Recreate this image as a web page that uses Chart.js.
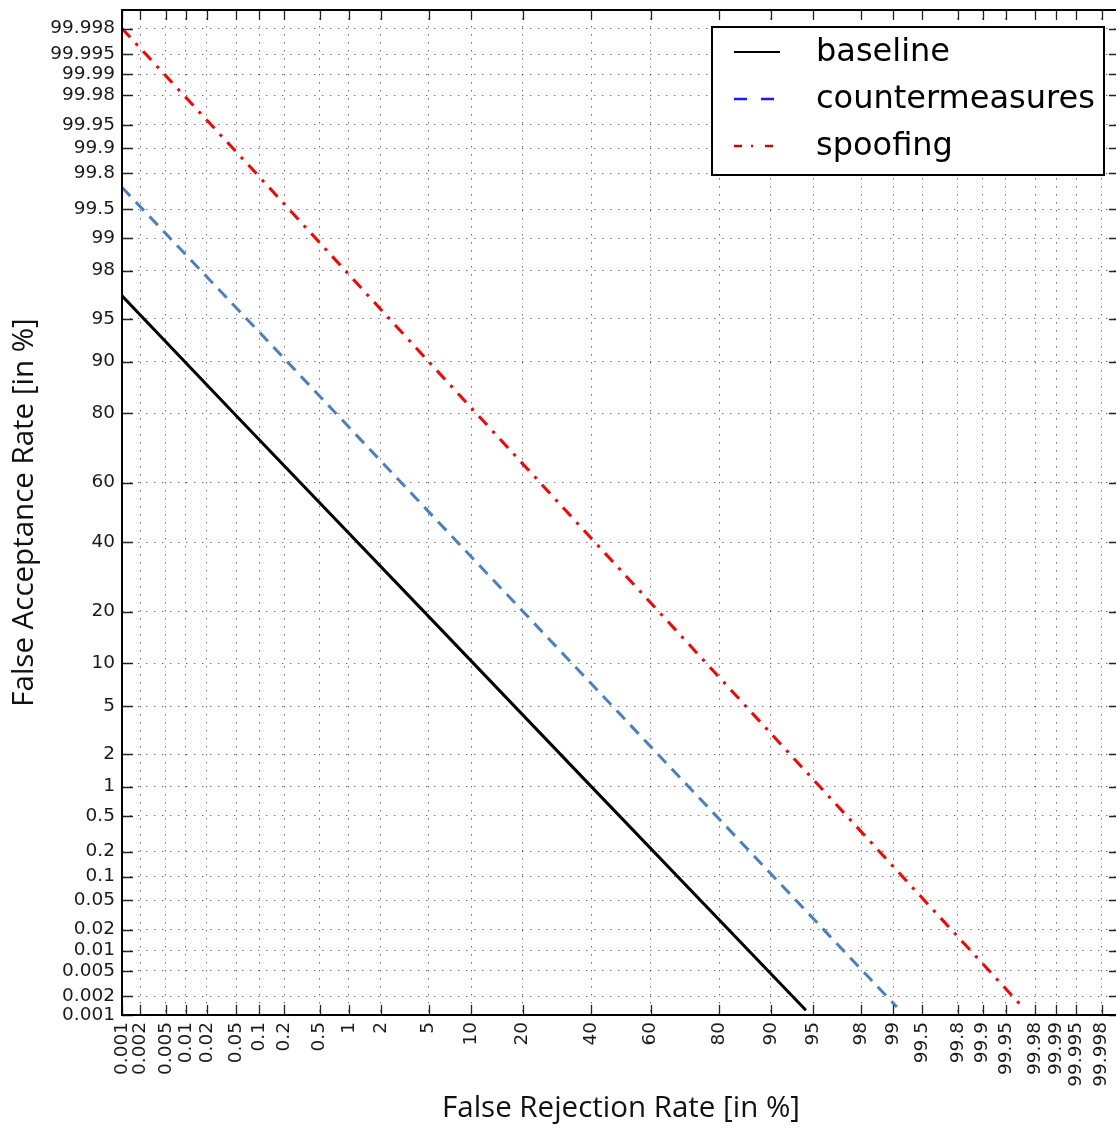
<!DOCTYPE html>
<html>
<head>
<meta charset="utf-8">
<script src="https://cdn.jsdelivr.net/npm/chart.js@4.4.0/dist/chart.umd.min.js"></script>
<style>
  body { margin: 0; background: #fff; }
  #wrap { width: 1116px; height: 1128px; overflow: hidden; }
</style>
</head>
<body>
<div id="wrap"><canvas id="detChart" width="1122" height="1128"></canvas></div>
<script>
// tick positions (in %) shared by both axes
var tickPercents = [0.001, 0.002, 0.005, 0.01, 0.02, 0.05, 0.1, 0.2, 0.5, 1, 2, 5, 10, 20, 40, 60, 80, 90, 95, 98, 99, 99.5, 99.8, 99.9, 99.95, 99.98, 99.99, 99.995, 99.998];
var tickLabels = ['0.001', '0.002', '0.005', '0.01', '0.02', '0.05', '0.1', '0.2', '0.5', '1', '2', '5', '10', '20', '40', '60', '80', '90', '95', '98', '99', '99.5', '99.8', '99.9', '99.95', '99.98', '99.99', '99.995', '99.998'];

// curves (FRR %, FAR %)
var baselineFRR = [0.001, 0.05, 5, 40, 94.3];
var baselineFAR = [96.7, 79.5, 18.9, 1.0, 0.0012];
var counterFRR = [0.001, 0.1, 5, 40, 80, 99.08];
var counterFAR = [99.71, 93.7, 50.3, 7.3, 0.46, 0.00135];
var spoofFRR = [0.001, 0.1, 5, 40, 80, 99.97];
var spoofFAR = [99.998, 99.78, 90.0, 41.3, 8.06, 0.00135];

// inverse normal cdf (Acklam)
function probit(p) {
  var a = [-3.969683028665376e+01, 2.209460984245205e+02, -2.759285104469687e+02, 1.383577518672690e+02, -3.066479806614716e+01, 2.506628277459239e+00];
  var b = [-5.447609879822406e+01, 1.615858368580409e+02, -1.556989798598866e+02, 6.680131188771972e+01, -1.328068155288572e+01];
  var c = [-7.784894002430293e-03, -3.223964580411365e-01, -2.400758277161838e+00, -2.549732539343734e+00, 4.374664141464968e+00, 2.938163982698783e+00];
  var d = [7.784695709041462e-03, 3.224671290700398e-01, 2.445134137142996e+00, 3.754408661907416e+00];
  var pl = 0.02425, q, r;
  if (p < pl) {
    q = Math.sqrt(-2 * Math.log(p));
    return (((((c[0]*q+c[1])*q+c[2])*q+c[3])*q+c[4])*q+c[5]) / ((((d[0]*q+d[1])*q+d[2])*q+d[3])*q+1);
  }
  if (p <= 1 - pl) {
    q = p - 0.5; r = q * q;
    return (((((a[0]*r+a[1])*r+a[2])*r+a[3])*r+a[4])*r+a[5])*q / (((((b[0]*r+b[1])*r+b[2])*r+b[3])*r+b[4])*r+1);
  }
  q = Math.sqrt(-2 * Math.log(1 - p));
  return -(((((c[0]*q+c[1])*q+c[2])*q+c[3])*q+c[4])*q+c[5]) / ((((d[0]*q+d[1])*q+d[2])*q+d[3])*q+1);
}

function toPoints(frr, far) {
  var pts = [];
  for (var i = 0; i < frr.length; i++) {
    pts.push({ x: probit(frr[i] / 100), y: probit(far[i] / 100) });
  }
  return pts;
}

var axisMin = probit(0.00001);
var axisMax = -axisMin;

function setTicks(scale) {
  scale.ticks = tickPercents.map(function (p) { return { value: probit(p / 100) }; });
}

// frame, inner tick marks and legend
var framePlugin = {
  id: 'frame',
  afterDraw: function (chart) {
    var ctx = chart.ctx, ca = chart.chartArea;
    var xs = chart.scales.x, ys = chart.scales.y;
    ctx.save();
    ctx.strokeStyle = '#222';
    ctx.lineWidth = 1.3;
    ctx.beginPath();
    tickPercents.forEach(function (p) {
      var v = probit(p / 100);
      var px = Math.round(xs.getPixelForValue(v)) + 0.5;
      ctx.moveTo(px, ca.bottom); ctx.lineTo(px, ca.bottom - 10);
      ctx.moveTo(px, ca.top); ctx.lineTo(px, ca.top + 10);
      var py = Math.round(ys.getPixelForValue(v)) + 0.5;
      ctx.moveTo(ca.left, py); ctx.lineTo(ca.left + 11, py);
      ctx.moveTo(ca.right, py); ctx.lineTo(ca.right - 11, py);
    });
    ctx.stroke();

    ctx.strokeStyle = '#000';
    ctx.lineWidth = 2;
    ctx.strokeRect(ca.left, ca.top, ca.right - ca.left, ca.bottom - ca.top);

    // legend
    var lx = 712, ly = 27, lw = 392, lh = 148;
    ctx.fillStyle = '#fff';
    ctx.fillRect(lx, ly, lw, lh);
    ctx.strokeRect(lx, ly, lw, lh);
    var items = [
      { text: 'baseline', color: '#000', dash: [], width: 2 },
      { text: 'countermeasures', color: '#1a1aff', dash: [13, 14], width: 2.5 },
      { text: 'spoofing', color: '#d40000', dash: [8, 9, 2, 12], width: 2.5 }
    ];
    ctx.font = '32px "DejaVu Sans"';
    ctx.textBaseline = 'middle';
    items.forEach(function (it, i) {
      var cy = 53 + i * 47;
      ctx.beginPath();
      ctx.setLineDash(it.dash);
      ctx.strokeStyle = it.color;
      ctx.lineWidth = it.width;
      ctx.moveTo(734, cy - 1); ctx.lineTo(780, cy - 1);
      ctx.stroke();
      ctx.setLineDash([]);
      ctx.fillStyle = '#000';
      ctx.fillText(it.text, 816, cy);
    });
    ctx.restore();
  }
};

var ctx = document.getElementById('detChart').getContext('2d');
var detChart = new Chart(ctx, {
  type: 'scatter',
  data: {
    datasets: [{
      label: 'baseline',
      data: toPoints(baselineFRR, baselineFAR),
      showLine: true,
      borderColor: '#000',
      borderWidth: 3,
      pointRadius: 0
    }, {
      label: 'countermeasures',
      data: toPoints(counterFRR, counterFAR),
      showLine: true,
      borderColor: '#4a80c0',
      borderWidth: 3,
      borderDash: [12, 8],
      pointRadius: 0
    }, {
      label: 'spoofing',
      data: toPoints(spoofFRR, spoofFAR),
      showLine: true,
      borderColor: '#ff0000',
      borderWidth: 3,
      borderDash: [12, 8, 3, 8],
      pointRadius: 0
    }]
  },
  options: {
    responsive: false,
    animation: false,
    devicePixelRatio: 1,
    layout: { padding: { top: 10, right: 2, left: 0, bottom: 0 } },
    plugins: { legend: { display: false }, tooltip: { enabled: false } },
    scales: {
      x: {
        type: 'linear',
        min: axisMin,
        max: axisMax,
        afterBuildTicks: setTicks,
        afterFit: function (scale) { scale.height = 113; scale.paddingLeft = 0; scale.paddingRight = 0; },
        ticks: {
          autoSkip: false,
          minRotation: 90,
          maxRotation: 90,
          padding: 7,
          color: '#1a1a1a',
          font: { family: 'DejaVu Sans', size: 18.5 },
          callback: function (v, i) { return tickLabels[i]; }
        },
        grid: { color: 'rgba(0,0,0,0.55)', lineWidth: 1, drawTicks: false },
        border: { display: false, dash: [1.5, 6.5] },
        title: {
          display: true,
          text: 'False Rejection Rate [in %]',
          color: '#111',
          font: { family: 'Open Sans', size: 29.5 },
          padding: { top: 2, bottom: 2 }
        }
      },
      y: {
        type: 'linear',
        min: axisMin,
        max: axisMax,
        afterBuildTicks: setTicks,
        afterFit: function (scale) { scale.width = 122; scale.paddingTop = 0; scale.paddingBottom = 0; },
        ticks: {
          autoSkip: false,
          padding: 7,
          color: '#1a1a1a',
          font: { family: 'DejaVu Sans', size: 18.5 },
          callback: function (v, i) { return tickLabels[i]; }
        },
        grid: { color: 'rgba(0,0,0,0.55)', lineWidth: 1, drawTicks: false },
        border: { display: false, dash: [1.5, 6.5] },
        title: {
          display: true,
          text: 'False Acceptance Rate [in %]',
          color: '#111',
          font: { family: 'Open Sans', size: 29.5 },
          padding: { top: 7, bottom: 0 }
        }
      }
    }
  },
  plugins: [framePlugin]
});
</script>
</body>
</html>
